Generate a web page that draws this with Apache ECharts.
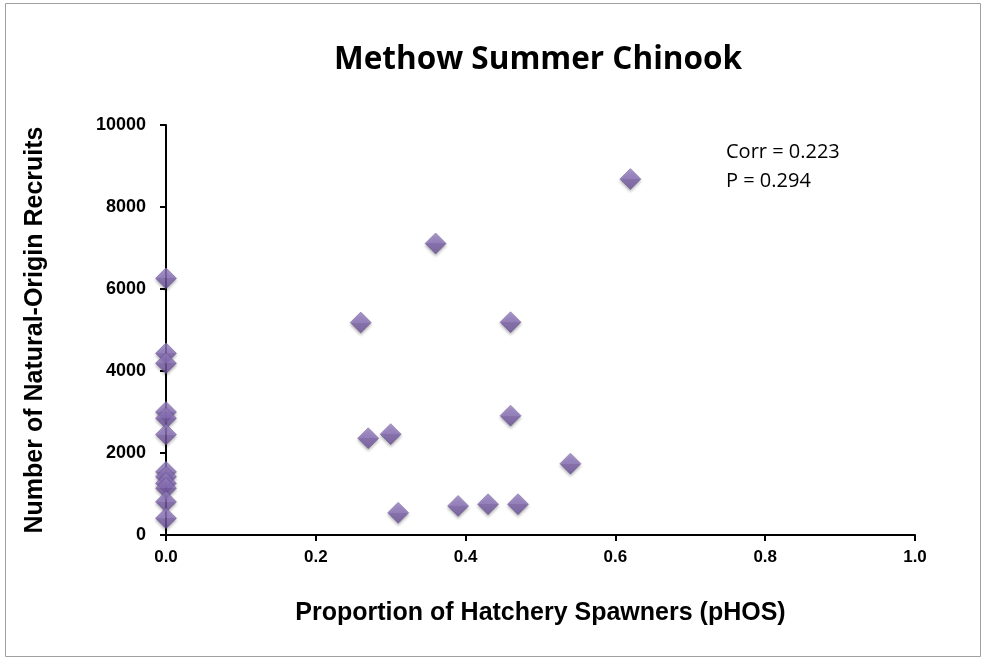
<!DOCTYPE html>
<html>
<head>
<meta charset="utf-8">
<script src="https://cdn.jsdelivr.net/npm/echarts@6/dist/echarts.min.js"></script>
<style>html,body{margin:0;padding:0;background:#fff}#c{width:986px;height:660px}</style>
</head>
<body>
<div id="c"></div>
<script>
var title = 'Methow Summer Chinook';
var xName = 'Proportion of Hatchery Spawners (pHOS)';
var yName = 'Number of Natural-Origin Recruits';
var corrText = ['Corr = 0.223', 'P = 0.294'];
var pHOS = [0, 0, 0, 0, 0, 0, 0, 0, 0, 0, 0, 0,
            0.62, 0.36, 0.26, 0.46, 0.46, 0.27, 0.30, 0.54, 0.31, 0.39, 0.43, 0.47];
var recruits = [6260, 4430, 4190, 3000, 2850, 2450, 1540, 1420, 1260, 1140, 810, 410,
                8680, 7110, 5180, 5190, 2910, 2360, 2460, 1740, 540, 710, 750, 750];

var chart = echarts.init(document.getElementById('c'));
var data = pHOS.map(function (x, i) { return [x, recruits[i]]; });
chart.setOption({
  animation: false,
  backgroundColor: '#fff',
  title: {
    text: title, left: 533, top: 39, textAlign: 'center',
    textStyle: { fontFamily: 'Open Sans', fontWeight: 'bold', fontSize: 31.5, color: '#000' }
  },
  grid: { left: 166, right: 71, top: 125, bottom: 125 },
  xAxis: {
    type: 'value', min: 0, max: 1, interval: 0.2,
    name: xName, nameLocation: 'middle', nameGap: 66,
    nameTextStyle: { fontFamily: 'Liberation Sans', fontWeight: 'bold', fontSize: 25, color: '#000' },
    axisLine: { show: true, lineStyle: { color: '#000', width: 2 } },
    axisTick: { show: true, length: 6, lineStyle: { color: '#000', width: 2 } },
    axisLabel: { formatter: function (v) { return v.toFixed(1); }, margin: 14,
      fontFamily: 'Liberation Sans', fontWeight: 'bold', fontSize: 17, color: '#000' },
    splitLine: { show: false }
  },
  yAxis: {
    type: 'value', min: 0, max: 10000, interval: 2000,
    name: yName, nameLocation: 'middle', nameGap: 118, nameRotate: 90,
    nameTextStyle: { fontFamily: 'Liberation Sans', fontWeight: 'bold', fontSize: 25, color: '#000' },
    axisLine: { show: true, lineStyle: { color: '#000', width: 2 } },
    axisTick: { show: true, length: 6, lineStyle: { color: '#000', width: 2 } },
    axisLabel: { margin: 20, formatter: function (v) { return String(v); },
      fontFamily: 'Liberation Sans', fontWeight: 'bold', fontSize: 18, color: '#000' },
    splitLine: { show: false }
  },
  graphic: [
    { type: 'rect', shape: { x: 5.5, y: 3.5, width: 975, height: 653 },
      style: { fill: 'none', stroke: '#a0a0a0', lineWidth: 1 }, silent: true, z: -1 },
    { type: 'text', left: 726, top: 138,
      style: { text: corrText.join('\n'), font: '20px "Open Sans"', fill: '#000', lineHeight: 29 } }
  ],
  series: [{
    type: 'scatter', symbol: 'diamond', symbolSize: 21,
    data: data,
    itemStyle: {
      color: new echarts.graphic.LinearGradient(0, 0, 0, 1, [
        { offset: 0, color: '#9d87c9' }, { offset: 0.5, color: '#8a70b9' },
        { offset: 0.5, color: '#7a5fa8' }, { offset: 1, color: '#6a5196' }
      ]),
      borderColor: '#5d4786', borderWidth: 0.5,
      shadowColor: 'rgba(0,0,0,0.35)', shadowBlur: 3, shadowOffsetY: 2
    }
  }]
});
</script>
</body>
</html>
